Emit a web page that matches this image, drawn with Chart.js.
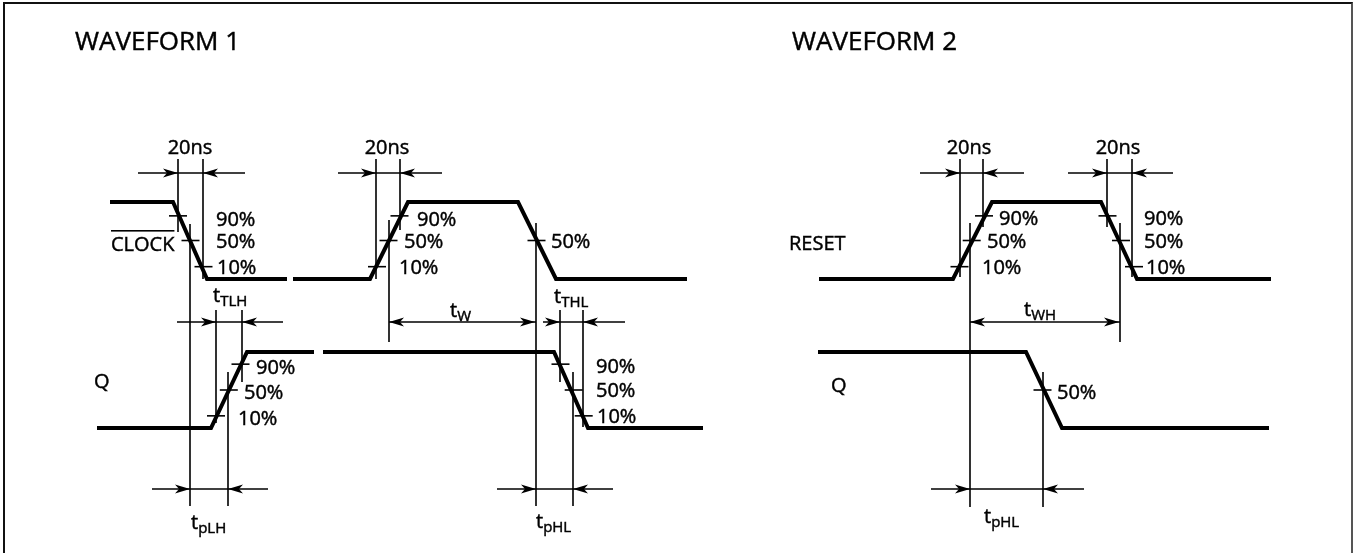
<!DOCTYPE html>
<html>
<head>
<meta charset="utf-8">
<script src="https://cdn.jsdelivr.net/npm/chart.js@4"></script>
<style>
  html, body { margin: 0; padding: 0; background: #fff; }
  canvas { display: block; }
  #frame {
    position: absolute; left: 3px; top: 2px; width: 1346px; height: 560px;
    border-left: 2px solid #111; border-top: 2px solid #111; border-right: 2px solid #555;
    pointer-events: none;
  }
</style>
</head>
<body>
<canvas id="diagram" width="1354" height="553"></canvas>
<div id="frame"></div>
<script>
// signal levels (1 = high, 0 = low) against time
const clockTimeA = [110, 173, 207, 287];
const clockLevelA = [1, 1, 0, 0];
const clockTimeB = [293, 370, 408, 518, 556, 687];
const clockLevelB = [0, 0, 1, 1, 0, 0];
const q1TimeA = [97, 211, 247, 314];
const q1LevelA = [0, 0, 1, 1];
const q1TimeB = [323, 554, 588, 703];
const q1LevelB = [1, 1, 0, 0];
const resetTime = [819, 953, 992, 1101, 1137, 1271];
const resetLevel = [0, 0, 1, 1, 0, 0];
const q2Time = [818, 1026, 1062, 1269];
const q2Level = [1, 1, 0, 0];

// threshold marks on the edges (time, level fraction, row)
const markTime = [178, 190.5, 203.5, 399.5, 388.5, 377, 536.5,
  240.5, 228.8, 216, 560.5, 573.7, 583.7,
  984, 971.7, 959.5, 1107.5, 1121, 1134, 1042.5];
const markLevel = [0.82, 0.5, 0.16, 0.82, 0.5, 0.16, 0.5,
  0.84, 0.5, 0.16, 0.84, 0.5, 0.16,
  0.82, 0.5, 0.16, 0.82, 0.5, 0.16, 0.5];
const markRow = [0, 0, 0, 0, 0, 0, 0, 1, 1, 1, 1, 1, 1, 0, 0, 0, 0, 0, 0, 1];

// vertical reference lines
const refTime = [178, 203, 190, 216, 242, 228, 376, 400, 389, 536, 560, 583, 573,
  960, 983, 970, 1107, 1132, 1120, 1043];
const refTop = [159, 159, 224, 310, 310, 372, 159, 159, 220, 223, 310, 310, 372,
  159, 159, 223, 159, 159, 223, 372];
const refBottom = [232, 279, 506, 423, 382, 506, 279, 230, 342, 506, 382, 427, 506,
  277, 227, 507, 227, 277, 342, 507];

// dimension lines and their arrow heads
const dimLevel = [173, 173, 322, 489, 322, 322, 489, 173, 173, 322, 489];
const dimFrom = [138, 338, 177, 152, 389, 543, 497, 920, 1068, 970, 931];
const dimTo = [245, 442, 283, 268, 536, 625, 613, 1024, 1173, 1120, 1084];
const headTime = [178, 203, 376, 400, 216, 242, 190, 228, 389, 535, 560, 583, 536, 573,
  960, 983, 1107, 1132, 970, 1119, 970, 1043];
const headLevel = [173, 173, 173, 173, 322, 322, 489, 489, 322, 322, 322, 322, 489, 489,
  173, 173, 173, 173, 322, 322, 489, 489];
const headDir = [1, -1, 1, -1, 1, -1, 1, -1, -1, 1, 1, -1, 1, -1,
  1, -1, 1, -1, -1, 1, 1, -1];

// row levels on the y axis: [row 0, row 1]
const rowHigh = [202, 352];
const rowLow = [279, 428];

// text: [text, subscript, x, y, kind]
const labels = [
  ['WAVEFORM 1', '', 75, 49.5, 'title'],
  ['WAVEFORM 2', '', 792, 49.5, 'title'],
  ['20ns', '', 190, 154, 'center'],
  ['20ns', '', 387, 154, 'center'],
  ['20ns', '', 969, 154, 'center'],
  ['20ns', '', 1118, 154, 'center'],
  ['CLOCK', '', 111, 251, 'over'],
  ['RESET', '', 789, 249.5, 'name'],
  ['Q', '', 94, 388, 'name'],
  ['Q', '', 831, 392, 'name'],
  ['90%', '', 216, 226, 'pct'], ['50%', '', 216, 248, 'pct'], ['10%', '', 217, 274, 'pct'],
  ['90%', '', 417, 226, 'pct'], ['50%', '', 404, 248, 'pct'], ['10%', '', 399, 274, 'pct'],
  ['50%', '', 551, 248, 'pct'],
  ['90%', '', 256, 374, 'pct'], ['50%', '', 244, 399, 'pct'], ['10%', '', 238, 425, 'pct'],
  ['90%', '', 596, 373, 'pct'], ['50%', '', 596, 397, 'pct'], ['10%', '', 597, 423, 'pct'],
  ['90%', '', 999, 225, 'pct'], ['50%', '', 987, 248, 'pct'], ['10%', '', 982, 274, 'pct'],
  ['90%', '', 1144, 225, 'pct'], ['50%', '', 1144, 248, 'pct'], ['10%', '', 1146, 274, 'pct'],
  ['50%', '', 1057, 399, 'pct'],
  ['t', 'TLH', 213, 302, 'sub'],
  ['t', 'W', 450, 317, 'sub'],
  ['t', 'THL', 554, 303, 'sub'],
  ['t', 'WH', 1024, 316, 'sub'],
  ['t', 'pLH', 191, 529, 'sub'],
  ['t', 'pHL', 536, 528, 'sub'],
  ['t', 'pHL', 984, 523, 'sub']
];

const FONT = '"Open Sans", "DejaVu Sans", sans-serif';

function levelToY(level, row) {
  return rowLow[row] - level * (rowLow[row] - rowHigh[row]);
}

function waveform(times, levels, row) {
  return {
    data: times.map((t, i) => ({ x: t, y: levelToY(levels[i], row) })),
    showLine: true,
    borderColor: '#000',
    borderWidth: 4,
    borderCapStyle: 'butt',
    borderJoinStyle: 'miter',
    pointRadius: 0
  };
}

function thin(x0, y0, x1, y1) {
  return {
    data: [{ x: x0, y: y0 }, { x: x1, y: y1 }],
    showLine: true,
    borderColor: '#000',
    borderWidth: 1.6,
    borderCapStyle: 'butt',
    pointRadius: 0
  };
}

const datasets = [
  waveform(clockTimeA, clockLevelA, 0),
  waveform(clockTimeB, clockLevelB, 0),
  waveform(q1TimeA, q1LevelA, 1),
  waveform(q1TimeB, q1LevelB, 1),
  waveform(resetTime, resetLevel, 0),
  waveform(q2Time, q2Level, 1)
];

refTime.forEach((t, i) => datasets.push(thin(t, refTop[i], t, refBottom[i])));
dimLevel.forEach((v, i) => datasets.push(thin(dimFrom[i], v, dimTo[i], v)));
markTime.forEach((t, i) => {
  const v = levelToY(markLevel[i], markRow[i]);
  datasets.push(thin(t - 9, v, t + 9, v));
});

// text is drawn a touch heavier than Open Sans regular to match the print
function heavyText(ctx, text, px, py) {
  ctx.fillText(text, px, py);
  ctx.strokeText(text, px, py);
}

const annotate = {
  id: 'annotate',
  afterDatasetsDraw(chart) {
    const { ctx, scales: { x, y } } = chart;
    ctx.save();
    ctx.fillStyle = '#000';
    ctx.strokeStyle = '#000';
    ctx.lineWidth = 0.45;

    // arrow heads
    headTime.forEach((t, i) => {
      const px = x.getPixelForValue(t);
      const py = y.getPixelForValue(headLevel[i]);
      const d = headDir[i];
      ctx.beginPath();
      ctx.moveTo(px, py);
      ctx.lineTo(px - d * 15, py - 4.5);
      ctx.lineTo(px - d * 11, py);
      ctx.lineTo(px - d * 15, py + 4.5);
      ctx.closePath();
      ctx.fill();
    });

    // texts
    ctx.textBaseline = 'alphabetic';
    labels.forEach(([text, sub, lx, ly, kind]) => {
      const px = x.getPixelForValue(lx);
      const py = y.getPixelForValue(ly);
      ctx.font = (kind === 'title' ? '26px ' : '20px ') + FONT;
      ctx.textAlign = kind === 'center' ? 'center' : 'left';
      heavyText(ctx, text, px, py);
      if (kind === 'over') {
        const w = ctx.measureText(text).width;
        ctx.fillRect(px, py - 21, w, 1.6);
      }
      if (sub) {
        const w = ctx.measureText(text).width;
        ctx.font = '15px ' + FONT;
        heavyText(ctx, sub, px + w, py + 4);
      }
    });
    ctx.restore();
  }
};

new Chart(document.getElementById('diagram'), {
  type: 'scatter',
  data: { datasets },
  options: {
    responsive: false,
    animation: false,
    devicePixelRatio: 1,
    layout: { padding: 0, autoPadding: false },
    scales: {
      x: { type: 'linear', min: 0, max: 1354, display: false },
      y: { type: 'linear', min: 0, max: 553, reverse: true, display: false }
    },
    plugins: {
      legend: { display: false },
      tooltip: { enabled: false }
    },
    elements: { line: { tension: 0 } }
  },
  plugins: [annotate]
});
</script>
</body>
</html>
